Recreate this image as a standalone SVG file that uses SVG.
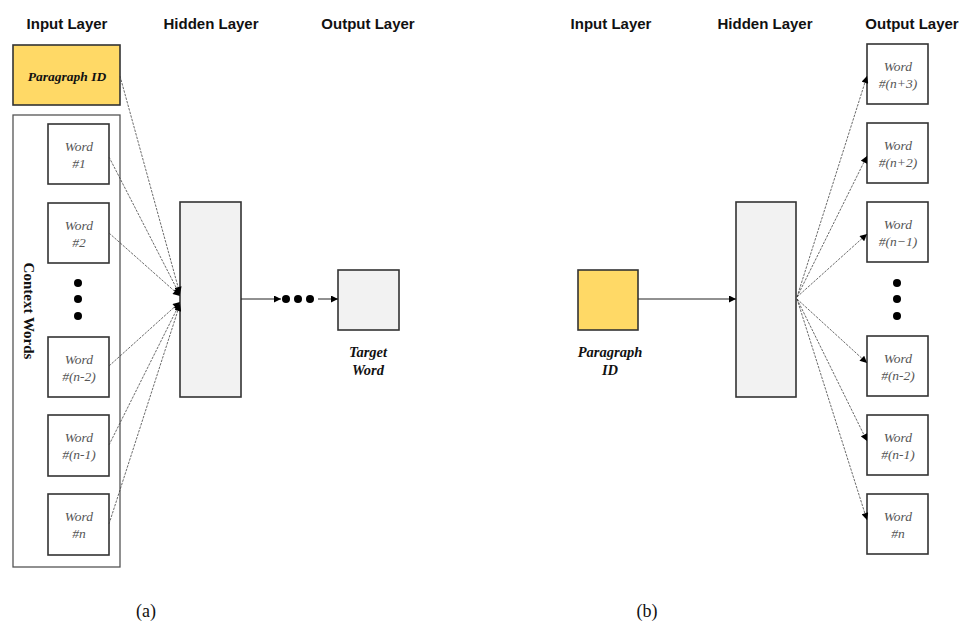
<svg xmlns="http://www.w3.org/2000/svg" width="960" height="622" viewBox="0 0 960 622">
<defs>
<style>
.hdr{font-family:"Liberation Sans",Arial,sans-serif;font-weight:bold;font-size:15px;fill:#111;text-anchor:middle}
.box{fill:#fff;stroke:#333;stroke-width:1.6}
.gold{fill:#FFD966;stroke:#333;stroke-width:1.6}
.hid{fill:#f2f2f2;stroke:#333;stroke-width:1.6}
.outer{fill:#fff;stroke:#555;stroke-width:1.3}
.w{font-family:"Liberation Serif","Times New Roman",serif;font-style:italic;font-size:13.5px;fill:#555;text-anchor:middle}
.bi{font-family:"Liberation Serif","Times New Roman",serif;font-style:italic;font-weight:bold;font-size:13.5px;fill:#111;text-anchor:middle}
.bl{font-family:"Liberation Serif","Times New Roman",serif;font-style:italic;font-weight:bold;font-size:14.5px;fill:#111;text-anchor:middle}
.cw{font-family:"Liberation Serif","Times New Roman",serif;font-weight:bold;font-size:15px;fill:#111;text-anchor:middle}
.cap{font-family:"Liberation Serif","Times New Roman",serif;font-size:18px;fill:#111;text-anchor:middle}
.ln{fill:none;stroke:#444;stroke-width:0.8;stroke-dasharray:2.5 1.2}
.ls{fill:none;stroke:#222;stroke-width:1}
.dot{fill:#000}
</style>
<marker id="ah" viewBox="0 0 10 10" refX="10" refY="5" markerWidth="8" markerHeight="7" markerUnits="userSpaceOnUse" orient="auto">
<path d="M0,0 L10,5 L0,10 z" fill="#000"/>
</marker>
</defs>
<rect width="960" height="622" fill="#fff"/>

<g id="headers">
<text class="hdr" x="67" y="29">Input Layer</text>
<text class="hdr" x="211" y="29">Hidden Layer</text>
<text class="hdr" x="368" y="29">Output Layer</text>
<text class="hdr" x="611" y="29">Input Layer</text>
<text class="hdr" x="765" y="29">Hidden Layer</text>
<text class="hdr" x="912" y="29">Output Layer</text>
</g>

<g id="a-paragraph-id">
<rect class="gold" x="13" y="45" width="107" height="60"/>
<text class="bi" x="67" y="81">Paragraph ID</text>
</g>

<g id="a-context-words">
<rect class="outer" x="13" y="115" width="107" height="452"/>
<text class="cw" transform="translate(29,311) rotate(90)" y="5">Context Words</text>
<circle class="dot" cx="78" cy="283" r="4"/>
<circle class="dot" cx="78" cy="299" r="4"/>
<circle class="dot" cx="78" cy="316" r="4"/>
</g>

<g id="a-word-1">
<rect class="box" x="48" y="124" width="61" height="60"/>
<text class="w" x="79" y="150.5">Word</text>
<text class="w" x="79" y="167.5">#1</text>
</g>
<g id="a-word-2">
<rect class="box" x="48" y="203" width="61" height="60"/>
<text class="w" x="79" y="229.5">Word</text>
<text class="w" x="79" y="246.5">#2</text>
</g>
<g id="a-word-n-2">
<rect class="box" x="48" y="337" width="61" height="60"/>
<text class="w" x="79" y="363.5">Word</text>
<text class="w" x="79" y="380.5">#(n-2)</text>
</g>
<g id="a-word-n-1">
<rect class="box" x="48" y="415" width="61" height="61"/>
<text class="w" x="79" y="441.5">Word</text>
<text class="w" x="79" y="458.5">#(n-1)</text>
</g>
<g id="a-word-n">
<rect class="box" x="48" y="494" width="61" height="61"/>
<text class="w" x="79" y="520.5">Word</text>
<text class="w" x="79" y="537.5">#n</text>
</g>

<g id="a-hidden">
<rect class="hid" x="180" y="202" width="61" height="195"/>
</g>

<g id="a-target">
<rect class="hid" x="338" y="270" width="61" height="60"/>
<text class="bl" x="368" y="357">Target</text>
<text class="bl" x="368" y="375">Word</text>
</g>

<text class="cap" x="146" y="617">(a)</text>

<g id="b-paragraph-id">
<rect class="gold" x="578" y="270" width="60" height="60"/>
<text class="bl" x="610" y="357">Paragraph</text>
<text class="bl" x="610" y="375">ID</text>
</g>

<g id="b-hidden">
<rect class="hid" x="736" y="202" width="60" height="195"/>
</g>

<g id="b-word-n+3">
<rect class="box" x="867" y="44" width="61" height="60"/>
<text class="w" x="898" y="70.5">Word</text>
<text class="w" x="898" y="87.5">#(n+3)</text>
</g>
<g id="b-word-n+2">
<rect class="box" x="867" y="123" width="61" height="60"/>
<text class="w" x="898" y="149.5">Word</text>
<text class="w" x="898" y="166.5">#(n+2)</text>
</g>
<g id="b-word-n+1">
<rect class="box" x="867" y="202" width="61" height="60"/>
<text class="w" x="898" y="228.5">Word</text>
<text class="w" x="898" y="245.5">#(n−1)</text>
</g>
<g id="b-dots">
<circle class="dot" cx="897" cy="283" r="4"/>
<circle class="dot" cx="897" cy="299" r="4"/>
<circle class="dot" cx="897" cy="316" r="4"/>
</g>
<g id="b-word-n-2">
<rect class="box" x="867" y="336" width="61" height="60"/>
<text class="w" x="898" y="362.5">Word</text>
<text class="w" x="898" y="379.5">#(n-2)</text>
</g>
<g id="b-word-n-1">
<rect class="box" x="867" y="415" width="61" height="60"/>
<text class="w" x="898" y="441.5">Word</text>
<text class="w" x="898" y="458.5">#(n-1)</text>
</g>
<g id="b-word-n">
<rect class="box" x="867" y="494" width="61" height="60"/>
<text class="w" x="898" y="520.5">Word</text>
<text class="w" x="898" y="537.5">#n</text>
</g>

<text class="cap" x="647" y="617">(b)</text>

<g id="connectors">
<line class="ln" x1="120" y1="76" x2="180" y2="294" marker-end="url(#ah)"/>
<line class="ln" x1="109" y1="157" x2="180" y2="295" marker-end="url(#ah)"/>
<line class="ln" x1="109" y1="233" x2="180" y2="296" marker-end="url(#ah)"/>
<line class="ln" x1="109" y1="366" x2="180" y2="302" marker-end="url(#ah)"/>
<line class="ln" x1="109" y1="445" x2="180" y2="303" marker-end="url(#ah)"/>
<line class="ln" x1="109" y1="524" x2="180" y2="304" marker-end="url(#ah)"/>
<line class="ls" x1="241" y1="299" x2="281" y2="299" marker-end="url(#ah)"/>
<line class="ls" x1="318" y1="299" x2="338" y2="299" marker-end="url(#ah)"/>
<line class="ls" x1="638" y1="299" x2="736" y2="299" marker-end="url(#ah)"/>
<line class="ln" x1="797" y1="297" x2="867" y2="76" marker-end="url(#ah)"/>
<line class="ln" x1="797" y1="297" x2="867" y2="156" marker-end="url(#ah)"/>
<line class="ln" x1="797" y1="297" x2="867" y2="234" marker-end="url(#ah)"/>
<line class="ln" x1="797" y1="299" x2="867" y2="363" marker-end="url(#ah)"/>
<line class="ln" x1="797" y1="299" x2="867" y2="441" marker-end="url(#ah)"/>
<line class="ln" x1="797" y1="299" x2="867" y2="520" marker-end="url(#ah)"/>
<circle class="dot" cx="286" cy="299" r="4"/>
<circle class="dot" cx="298" cy="299" r="4"/>
<circle class="dot" cx="310" cy="299" r="4"/>
</g>
</svg>
